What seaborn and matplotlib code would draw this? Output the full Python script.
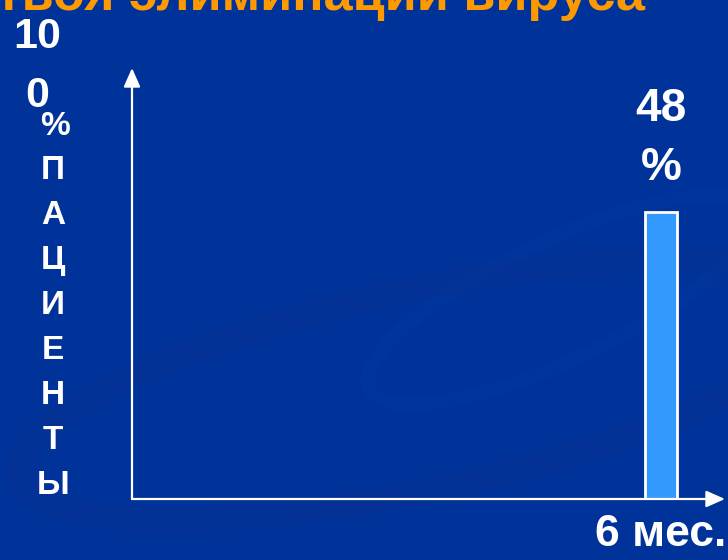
import numpy as np
import pandas as pd
import seaborn as sns
import matplotlib.pyplot as plt
from matplotlib.patches import Ellipse

# chart values
periods = ["6 мес."]
responders = [48]          # % patients
y_top = 72                 # axis limit (bar is not on a 0-100 scale)
y_letters = ["П", "А", "Ц", "И", "Е", "Н", "Т", "Ы"]
title = "твоя элиминации вируса"

BG = "#003399"
BAR = "#3399FF"
ORANGE = "#FF9900"
W, H = 728, 560

sns.set_theme(style="white")
plt.rcParams['font.family'] = ['Liberation Sans', 'DejaVu Sans']
plt.rcParams['font.weight'] = 'bold'


def fx(x):
    return x / W


def fy(y):
    return 1 - y / H


fig = plt.figure(figsize=(W / 100, H / 100), dpi=100, facecolor=BG)

# faint background swooshes from the slide template
bg = fig.add_axes([0, 0, 1, 1], zorder=-5)
bg.set_xlim(0, W)
bg.set_ylim(H, 0)
bg.axis("off")
bg.add_patch(Ellipse((420, 390), 820, 200, angle=-12, fill=False,
                     edgecolor="#0a2f8f", lw=18, alpha=0.3))
bg.add_patch(Ellipse((560, 300), 420, 120, angle=-25, fill=False,
                     edgecolor="#0b3fa6", lw=10, alpha=0.2))

ax = fig.add_axes([fx(132), fy(499), fx(725 - 132), (499 - 68) / H])
ax.set_facecolor("none")

df = pd.DataFrame({"period": periods, "pct": responders})
sns.barplot(data=df, x="period", y="pct", ax=ax, color=BAR,
            edgecolor="white", linewidth=2, width=0.8, saturation=1)

ax.set_xlim(-13.225, 1.6)
ax.set_ylim(0, y_top)
ax.set_xlabel("")
ax.set_ylabel("")
ax.set_yticks([])
for s in ax.spines.values():
    s.set_visible(False)
ax.tick_params(axis="x", length=0, labelsize=32, colors="white", pad=11)
for lbl in ax.get_xticklabels():
    lbl.set_fontweight("bold")

# axes drawn as arrows
arrow = dict(arrowstyle="-|>,head_length=0.95,head_width=0.42", color="white",
             lw=1.6, shrinkA=0, shrinkB=0)
ax.annotate("", xy=(1, 0), xytext=(0, 0), xycoords="axes fraction",
            arrowprops=arrow, annotation_clip=False)
ax.annotate("", xy=(0, 1), xytext=(0, 0), xycoords="axes fraction",
            arrowprops=arrow, annotation_clip=False)

# value label above the bar, split on two lines like the slide
for i, v in enumerate(responders):
    ax.annotate(f"{v}", xy=(i, v), xytext=(0, 65), textcoords="offset points",
                ha="center", va="baseline", fontsize=33, color="white",
                fontweight="bold", annotation_clip=False)
    ax.annotate("%", xy=(i, v), xytext=(0, 23), textcoords="offset points",
                ha="center", va="baseline", fontsize=33, color="white",
                fontweight="bold", annotation_clip=False)

# y label: "100%" broken over lines, then ПАЦИЕНТЫ written vertically
fig.text(fx(37), fy(48), "10", ha="center", va="baseline", fontsize=31,
         color="white", fontweight="bold")
fig.text(fx(37), fy(107), "0", ha="center", va="baseline", fontsize=31,
         color="white", fontweight="bold")
fig.text(fx(55), fy(135), "%", ha="center", va="baseline", fontsize=24,
         color="white", fontweight="bold")
for k, ch in enumerate(y_letters):
    fig.text(fx(53), fy(179 + 45 * k), ch, ha="center", va="baseline",
             fontsize=24, color="white", fontweight="bold")

# slide title, cut off by the top edge
fig.text(fx(-4), fy(10), title, ha="left", va="baseline", fontsize=37.5,
         color=ORANGE, fontweight="bold")

fig.savefig("out.png", dpi=100, facecolor=BG)
